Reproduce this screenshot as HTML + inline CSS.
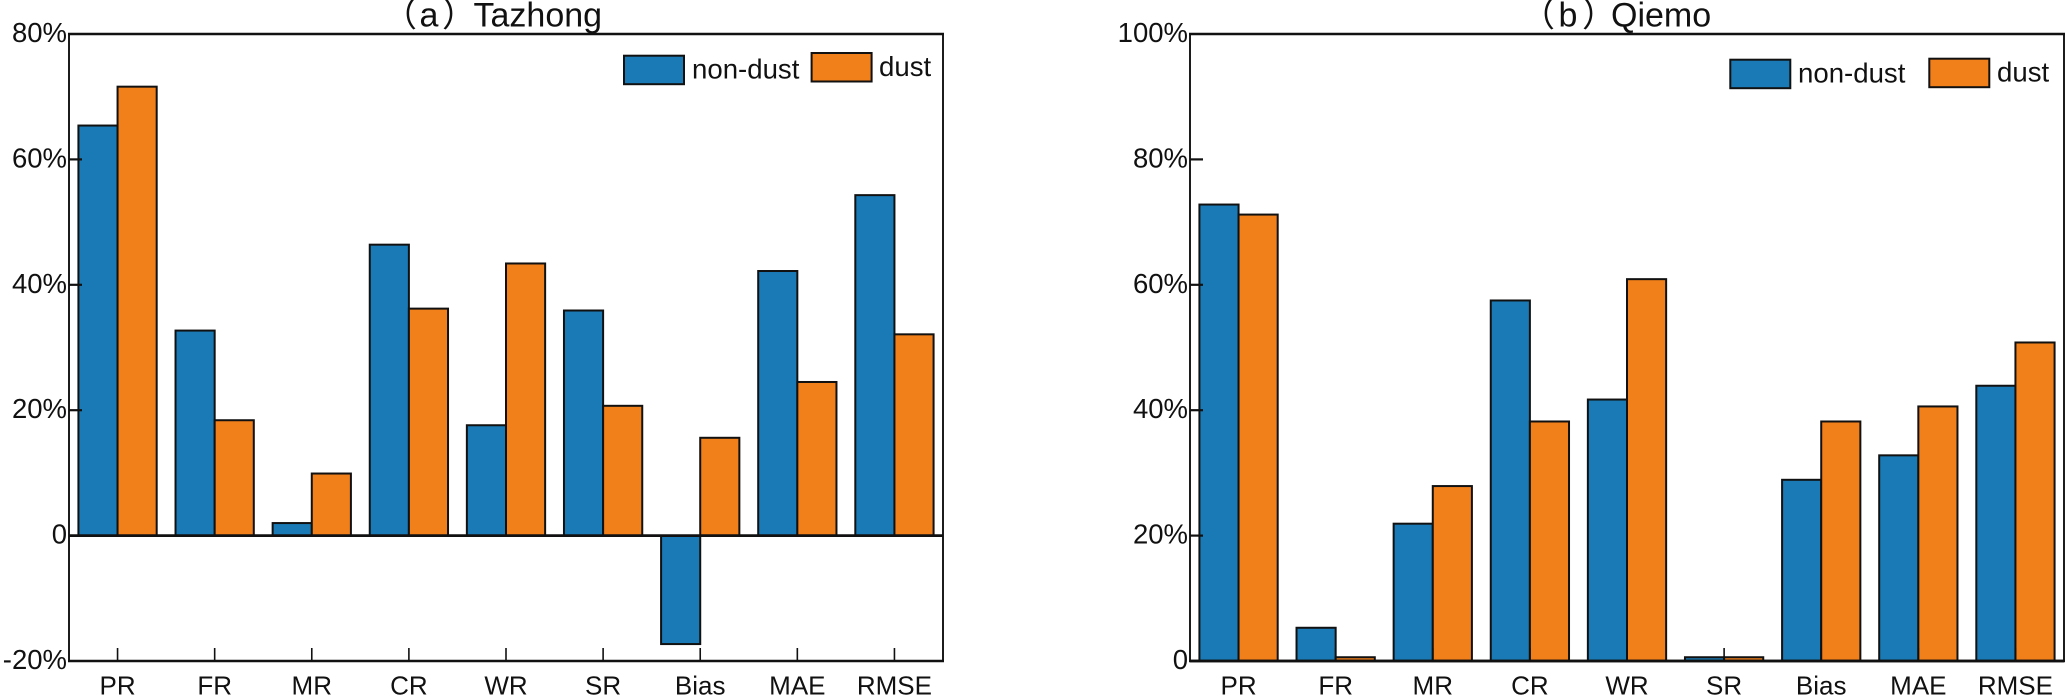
<!DOCTYPE html>
<html lang="en">
<head>
<meta charset="utf-8">
<title>Tazhong and Qiemo dust comparison</title>
<style>
html,body{margin:0;padding:0;background:#fff;width:2066px;height:696px;overflow:hidden}
svg{display:block}
text{font-family:"Liberation Sans","Noto Sans CJK SC",sans-serif;fill:#111}
</style>
</head>
<body>
<svg id="chart" xmlns="http://www.w3.org/2000/svg" width="2066" height="696" viewBox="0 0 2066 696"></svg>
<script>
const categories = ['PR','FR','MR','CR','WR','SR','Bias','MAE','RMSE'];
const tazhongNonDust = [65.4,32.7,2.0,46.4,17.6,35.9,-17.3,42.2,54.3];
const tazhongDust = [71.6,18.4,9.9,36.2,43.4,20.7,15.6,24.5,32.1];
const qiemoNonDust = [72.8,5.3,21.9,57.5,41.7,0.6,28.9,32.8,43.9];
const qiemoDust = [71.2,0.6,27.9,38.2,60.9,0.6,38.2,40.6,50.8];
const tazhongTicks = [-20,0,20,40,60,80];
const qiemoTicks = [0,20,40,60,80,100];
const seriesNames = ['non-dust','dust'];

const BLUE = '#1a7ab5', ORANGE = '#f17f1a', INK = '#111';
const svg = document.getElementById('chart');
const NS = 'http://www.w3.org/2000/svg';

function mk(tag, attrs, parent) {
  const el = document.createElementNS(NS, tag);
  for (const k in attrs) el.setAttribute(k, attrs[k]);
  (parent || svg).appendChild(el);
  return el;
}

function drawPanel(cfg) {
  const g = mk('g', {});
  
  

  const yMin = cfg.ticks[0], yMax = cfg.ticks[cfg.ticks.length - 1];
  const yScale = v => cfg.bottom - (v - yMin) / (yMax - yMin) * (cfg.bottom - cfg.top);
  const band = (cfg.right - cfg.left) / categories.length;
  const xScale = i => cfg.left + band * (i + 0.5);
  const barW = band * 0.403;
  const zero = yScale(0);

  // bars
  categories.forEach((cat, i) => {
    [cfg.a, cfg.b].forEach((series, s) => {
      const v = series[i];
      const y1 = yScale(v);
      const rect = mk('rect', {
        x: xScale(i) + (s === 0 ? -barW : 0),
        y: Math.min(y1, zero),
        width: barW,
        height: Math.abs(zero - y1),
        fill: s === 0 ? BLUE : ORANGE,
        stroke: INK,
        'stroke-width': 2
      }, g);
      
      
    });
  });

  // frame
  const frame = mk('rect', {
    x: cfg.left, y: cfg.top, width: cfg.right - cfg.left, height: cfg.bottom - cfg.top,
    fill: 'none', stroke: INK, 'stroke-width': 1.9
  }, g);
  
  

  // heavier top and bottom axis lines
  [cfg.top, cfg.bottom].forEach(y => {
    const line = mk('line', {x1: cfg.left - 1, x2: cfg.right + 1, y1: y, y2: y, stroke: INK, 'stroke-width': 2.5}, g);
    
    
  });

  // zero baseline
  const base = mk('line', {x1: cfg.left, x2: cfg.right, y1: zero, y2: zero, stroke: INK, 'stroke-width': 2.8}, g);
  
  

  // y ticks and labels
  cfg.ticks.forEach(t => {
    const y = yScale(t);
    if (t !== yMin && t !== yMax) {
      const tick = mk('line', {x1: cfg.left, x2: cfg.left + 13, y1: y, y2: y, stroke: INK, 'stroke-width': 2.2}, g);
      
      
    }
    const lab = mk('text', {
      x: cfg.left - 2, y: y + 8,
      'text-anchor': 'end', 'font-size': 27.5
    }, g);
    lab.textContent = t === 0 ? '0' : t + '%';
    
    
  });

  // x ticks and labels
  categories.forEach((cat, i) => {
    const x = xScale(i);
    const tick = mk('line', {x1: x, x2: x, y1: cfg.bottom - 13, y2: cfg.bottom, stroke: INK, 'stroke-width': 1.6}, g);
    
    
    const lab = mk('text', {x: x, y: 694.5, 'text-anchor': 'middle', 'font-size': 26}, g);
    lab.textContent = cat;
    
    
  });

  // title
  const title = mk('text', {y: 26.7, 'font-size': 34}, g);
  
  
  cfg.title.forEach(part => {
    const sp = mk('tspan', {x: part[1]}, title);
    sp.textContent = part[0];
  });

  // legend
  cfg.legend.forEach((item, s) => {
    const box = mk('rect', {
      x: item.x, y: item.y, width: 60, height: 28.5,
      fill: s === 0 ? BLUE : ORANGE, stroke: INK, 'stroke-width': 2
    }, g);
    
    
    const lab = mk('text', {x: item.tx, y: item.ty, 'font-size': 27.6}, g);
    lab.textContent = seriesNames[s];
    
    
  });
}

drawPanel({
  id: 'tazhong', left: 69, right: 943, top: 34, bottom: 661,
  ticks: tazhongTicks, a: tazhongNonDust, b: tazhongDust,
  title: [['（', 383], ['a', 419.5], ['）', 442], ['Tazhong', 473.5]],
  legend: [{x: 624, y: 55.7, tx: 692, ty: 78.7}, {x: 811.6, y: 53, tx: 879, ty: 76}]
});

drawPanel({
  id: 'qiemo', left: 1190, right: 2064, top: 34, bottom: 661,
  ticks: qiemoTicks, a: qiemoNonDust, b: qiemoDust,
  title: [['（', 1521], ['b', 1558.5], ['）', 1582], ['Qiemo', 1611]],
  legend: [{x: 1730.3, y: 59.7, tx: 1798, ty: 82.3}, {x: 1929.3, y: 58.7, tx: 1997, ty: 81.7}]
});
</script>
</body>
</html>
